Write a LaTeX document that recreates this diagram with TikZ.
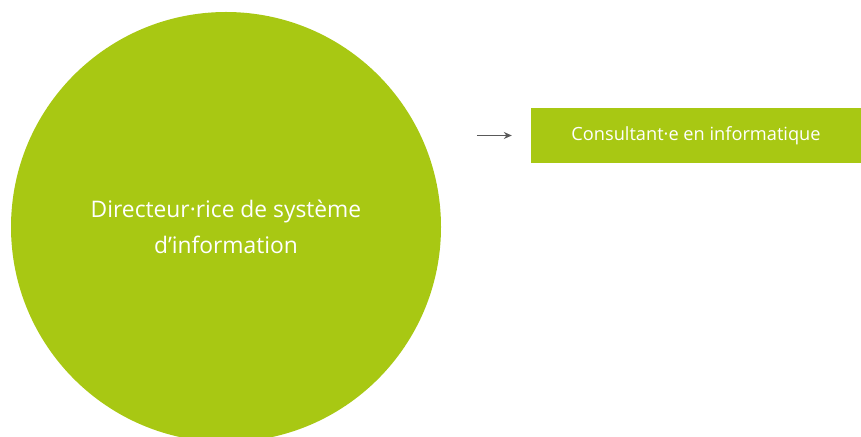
\documentclass[tikz,border=0pt]{standalone}
\usepackage{fontspec}
\setmainfont{Open Sans}
\usetikzlibrary{positioning,arrows.meta}
\definecolor{leafgreen}{RGB}{168,200,19}
\definecolor{arrowgrey}{RGB}{89,89,89}
\tikzstyle{rolecircle}=[circle,fill=leafgreen,minimum size=430pt,inner sep=0pt,text=white,align=center,font=\fontsize{22.8}{36}\selectfont]
\tikzstyle{rolebox}=[rectangle,fill=leafgreen,minimum width=330pt,minimum height=55pt,inner sep=0pt,text=white,font=\fontsize{18.2}{20}\selectfont]
\tikzstyle{flow}=[draw=arrowgrey,line width=1.2pt,-{Stealth[length=8pt,width=7pt]}]

\begin{document}
\begin{tikzpicture}[x=1pt,y=1pt]
	\useasboundingbox (0,0) rectangle (861,436);
	\node[rolecircle] (dsi) at (226,209) {Directeur·rice de système\\d’information};
	\node[rolebox] (consult) at (696,300.5) {Consultant·e en informatique};
	\coordinate[left=54pt of consult.west] (flowstart);
	%\fill[red] (flowstart) circle (1pt); % debug
	\draw[flow] (flowstart) -- ([xshift=-19pt]consult.west);
\end{tikzpicture}
\end{document}
